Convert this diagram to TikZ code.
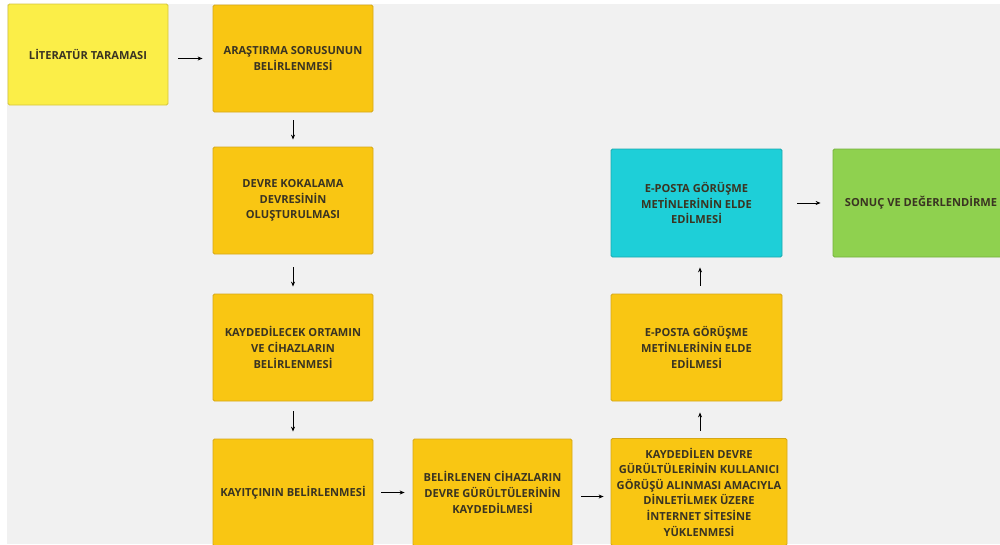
\documentclass[tikz,border=0pt]{standalone}
\usepackage{fontspec}
\setmainfont{Open Sans}
\usetikzlibrary{arrows.meta}
\definecolor{bg}{HTML}{F1F1F1}
\definecolor{lityel}{HTML}{FBEE48}
\definecolor{litbd}{HTML}{D6C63C}
\definecolor{orng}{HTML}{F9C613}
\definecolor{orbd}{HTML}{D6A716}
\definecolor{cyanb}{HTML}{1ECFD8}
\definecolor{cyanbd}{HTML}{1AA8AF}
\definecolor{grn}{HTML}{8FD14F}
\definecolor{grnbd}{HTML}{74B13C}
\definecolor{txt}{HTML}{3A3422}
\begin{document}
\begin{tikzpicture}[x=1pt,y=-1pt,
  box/.style={rectangle, rounded corners=1.5pt, line width=0.8pt, align=center,
    font=\bfseries\fontsize{11.1}{15.6}\selectfont, text=txt, inner sep=2pt},
  ybox/.style={box, fill=orng, draw=orbd, minimum width=160pt, minimum height=107pt},
  arr/.style={-{Stealth[length=5pt,width=4pt]}, line width=1pt, black}]
\useasboundingbox (0,0) rectangle (1000,544);
\clip (0,0) rectangle (1000,544);
\fill[white] (0,0) rectangle (1000,544);
\fill[bg] (7,4) rectangle (1000,544);

\node[box, fill=lityel, draw=litbd, minimum width=160pt, minimum height=101pt] (lit) at (88,54.5) {LİTERATÜR TARAMASI};
\node[ybox] (ara) at (293,58.5) {ARAŞTIRMA SORUSUNUN\\BELİRLENMESİ};
\node[ybox] (devre) at (293,200.5) {DEVRE KOKALAMA\\DEVRESİNİN\\OLUŞTURULMASI};
\node[ybox] (kayd) at (293,347.5) {KAYDEDİLECEK ORTAMIN\\VE CİHAZLARIN\\BELİRLENMESİ};
\node[ybox] (kayit) at (293,492.5) {KAYITÇININ BELİRLENMESİ};
\node[ybox, minimum width=159pt] (bel) at (492.5,492.5) {BELİRLENEN CİHAZLARIN\\DEVRE GÜRÜLTÜLERİNİN\\KAYDEDİLMESİ};
\node[ybox, minimum width=176pt] (kayded) at (699,492) {KAYDEDİLEN DEVRE\\GÜRÜLTÜLERİNİN KULLANICI\\GÖRÜŞÜ ALINMASI AMACIYLA\\DİNLETİLMEK ÜZERE\\İNTERNET SİTESİNE\\YÜKLENMESİ};
\node[ybox, minimum width=171pt] (epy) at (696.5,347.5) {E-POSTA GÖRÜŞME\\METİNLERİNİN ELDE\\EDİLMESİ};
\node[box, fill=cyanb, draw=cyanbd, minimum width=171pt, minimum height=108pt] (epc) at (696.5,203) {E-POSTA GÖRÜŞME\\METİNLERİNİN ELDE\\EDİLMESİ};
\node[box, fill=grn, draw=grnbd, minimum width=176pt, minimum height=108pt] (son) at (921,203) {SONUÇ VE DEĞERLENDİRME};

\draw[arr, shorten <=10pt, shorten >=10pt] (lit.east |- ara.west) -- (ara.west);
\draw[arr, shorten <=8pt, shorten >=7pt] (ara.south) -- (devre.north);
\draw[arr, shorten <=13pt, shorten >=7pt] (devre.south) -- (kayd.north);
\draw[arr, shorten <=10pt, shorten >=7pt] (kayd.south) -- (kayit.north);
\draw[arr, shorten <=8pt, shorten >=8pt] (kayit.east) -- (bel.west);
\draw[arr, shorten <=9pt, shorten >=7pt] ([yshift=-4pt]bel.east) -- ([yshift=-4pt]bel.east -| kayded.west);
\draw[arr, shorten <=7pt, shorten >=11pt] ([xshift=1pt]kayded.north) -- ([xshift=1pt]epy.south -| kayded.north);
\draw[arr, shorten <=8pt, shorten >=10pt] ([xshift=1pt]epy.north -| kayded.north) -- ([xshift=1pt]epc.south -| kayded.north);
\draw[arr, shorten <=15pt, shorten >=12pt] (epc.east |- son.west) -- (son.west);
\end{tikzpicture}
\end{document}
